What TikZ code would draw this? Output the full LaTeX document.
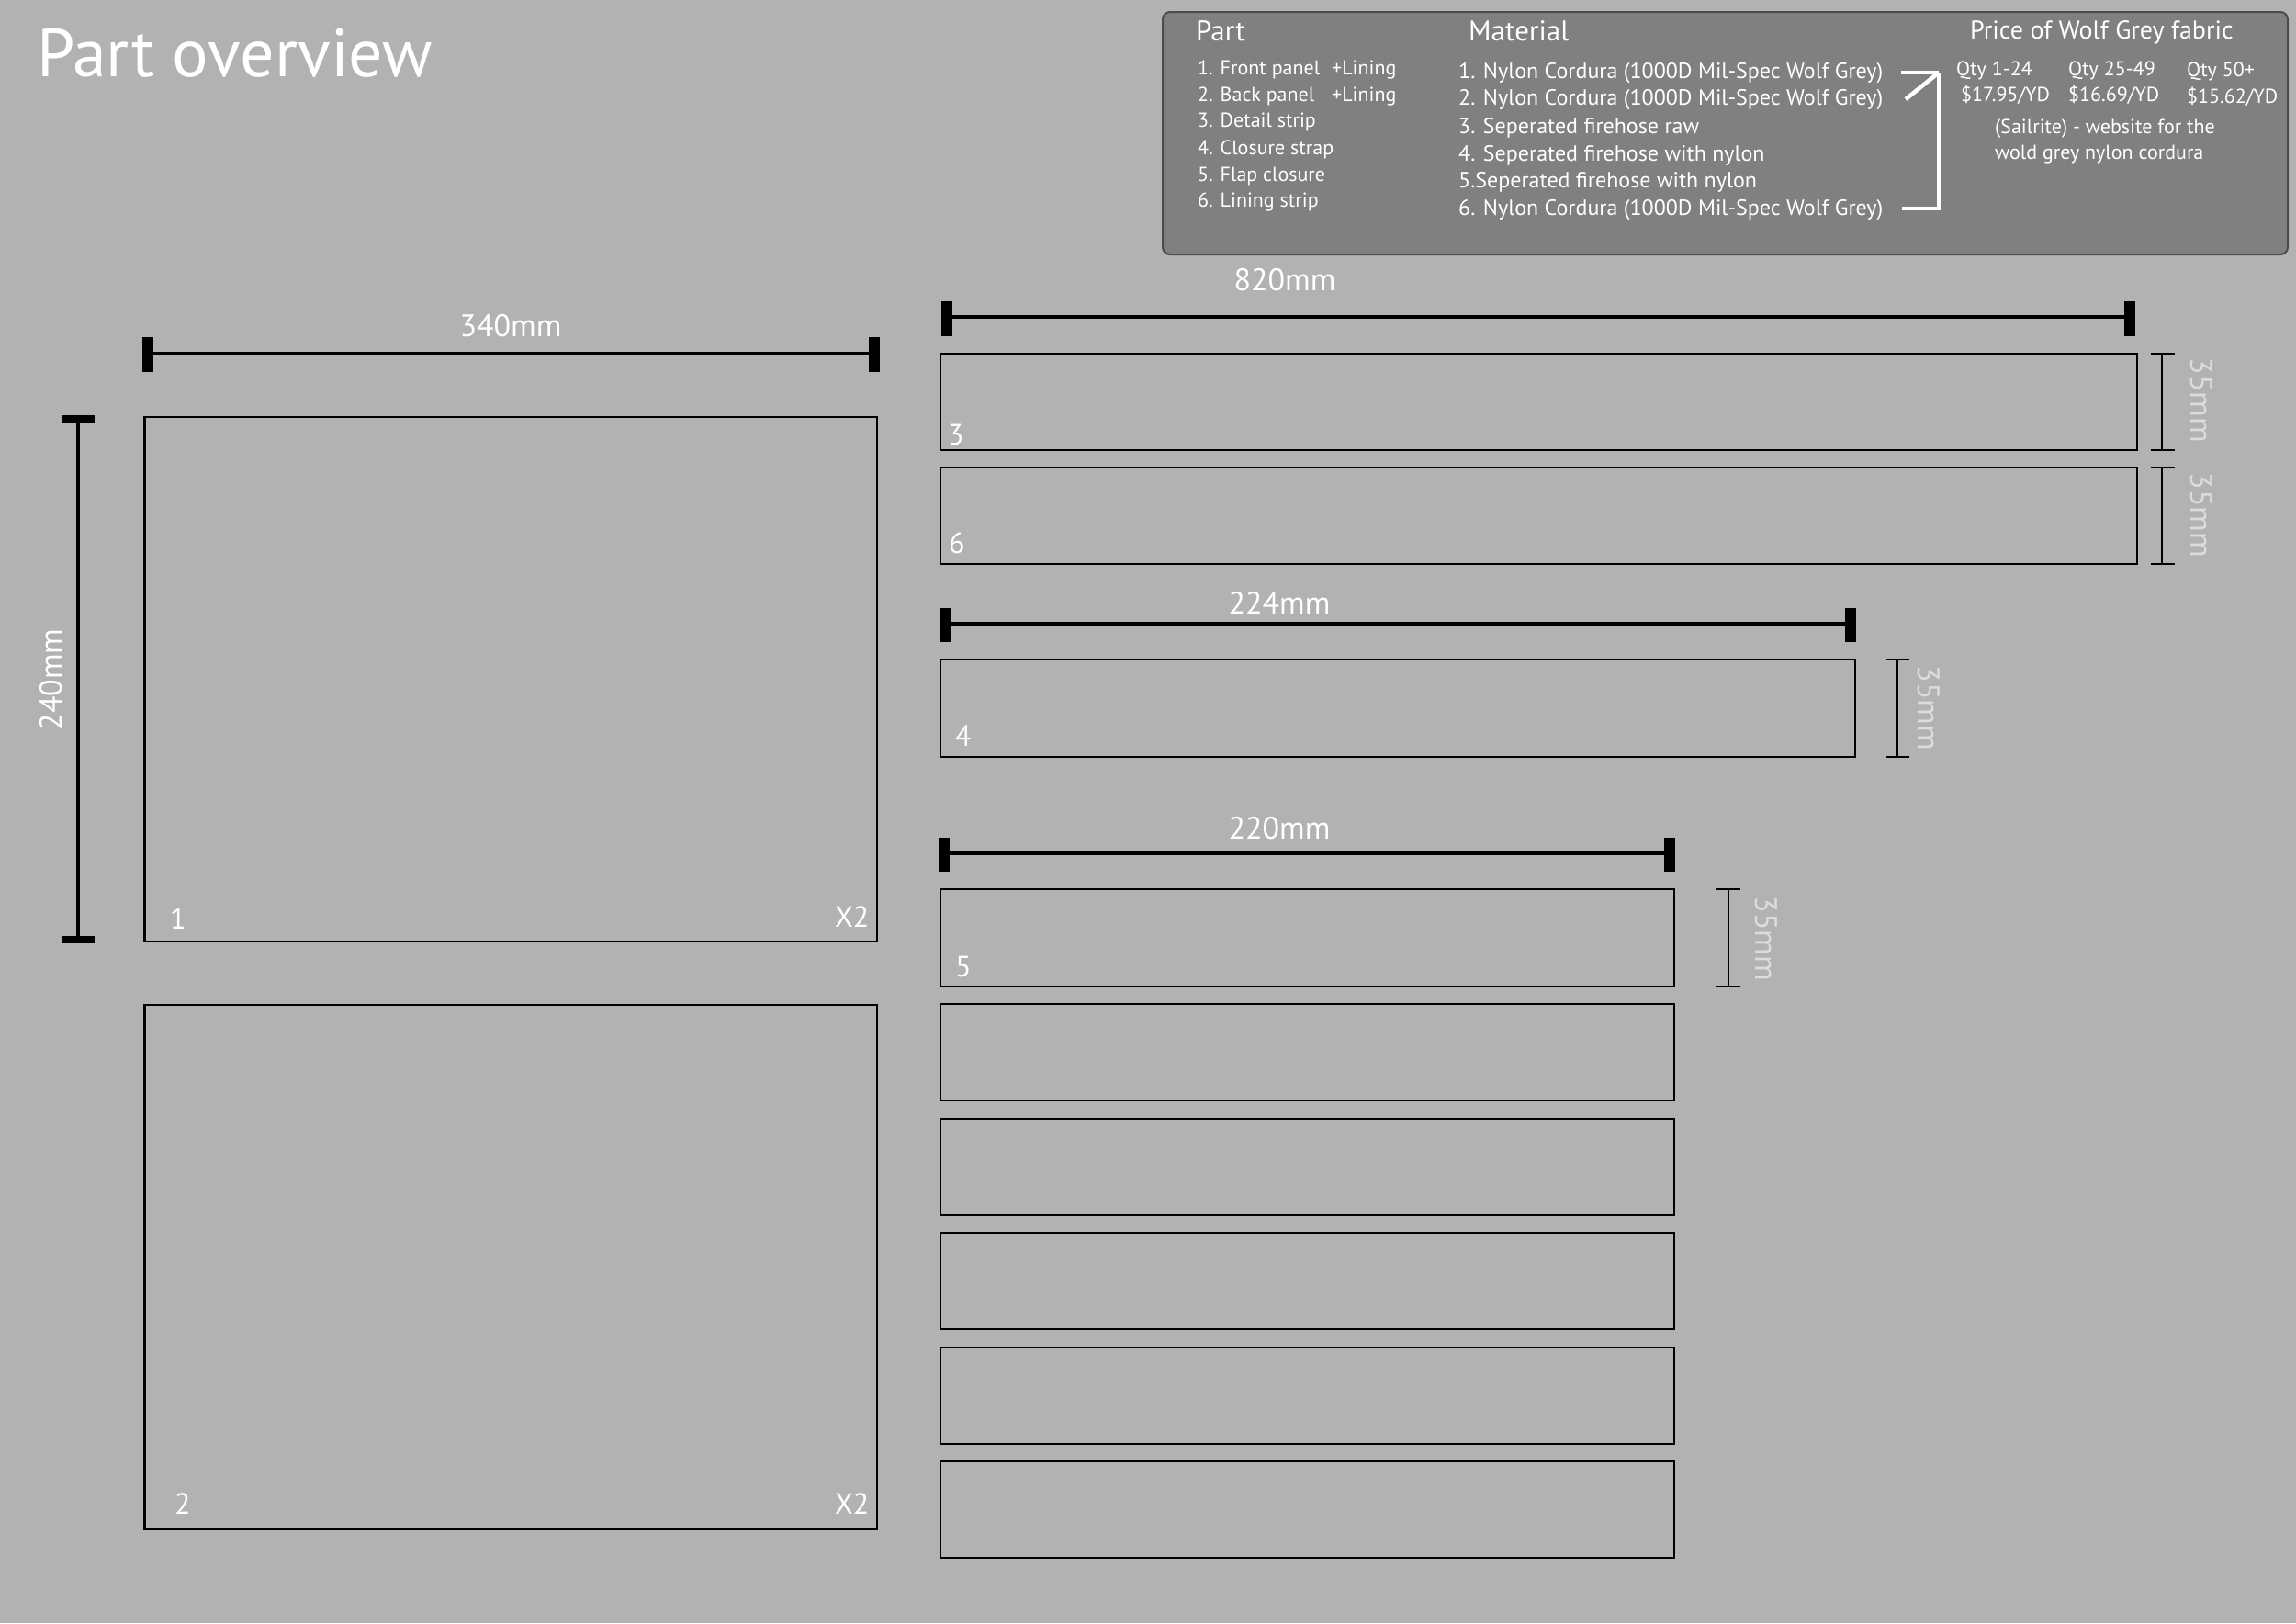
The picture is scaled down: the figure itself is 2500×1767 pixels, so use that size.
\documentclass[tikz,border=0pt]{standalone}
\usepackage{fontspec}
\setmainfont{PT Sans}
\definecolor{bg}{HTML}{B2B2B2}
\definecolor{panelfill}{HTML}{808080}
\definecolor{paleGray}{HTML}{DCDCDC}
\tikzset{
  piece/.style={draw=black, line width=2.5},
  dimmain/.style={draw=black, line width=4.5},
  dimtick/.style={draw=black, line width=12},
  thindim/.style={draw=black, line width=1.8},
  wtxt/.style={text=white, inner sep=0pt, anchor=base west},
  dimlbl/.style={text=white, inner sep=0pt, anchor=base, font=\fontsize{34}{34}\selectfont},
  numlbl/.style={text=white, inner sep=0pt, anchor=base west, font=\fontsize{32}{32}\selectfont},
  smalldim/.style={text=paleGray, inner sep=0pt, rotate=-90, font=\fontsize{34}{34}\selectfont},
  listA/.style={wtxt, font=\fontsize{22}{22}\selectfont},
  listB/.style={wtxt, font=\fontsize{24}{24}\selectfont},
  bracket/.style={draw=white, line width=4.5}
}
\begin{document}
\begin{tikzpicture}[x=1pt,y=-1pt]
\useasboundingbox (0,0) rectangle (2500,1767);
\fill[bg] (0,0) rectangle (2500,1767);

% title
\node[wtxt, font=\fontsize{74}{74}\selectfont] (title) at (40,83) {Part overview};

% info panel
\draw[fill=panelfill, draw=black!70, line width=2, rounded corners=8] (1266,13) rectangle (2491,277);
\node[wtxt, font=\fontsize{31}{31}\selectfont] (hpart) at (1302,44) {Part};
\node[wtxt, font=\fontsize{31}{31}\selectfont] (hmat) at (1599,44) {Material};
\node[wtxt, font=\fontsize{28}{28}\selectfont] (hprice) at (2145,42) {Price of Wolf Grey fabric};

\node[listA] (p1) at (1304,81) {1. Front panel};
\node[listA] (p2) at (1304,110) {2. Back panel};
\node[listA] (p3) at (1304,138) {3. Detail strip};
\node[listA] (p4) at (1304,168) {4. Closure strap};
\node[listA] (p5) at (1304,197) {5. Flap closure};
\node[listA] (p6) at (1304,225) {6. Lining strip};
\node[listA] (l1) at (1450,81) {+Lining};
\node[listA] (l2) at (1450,110) {+Lining};

\node[listB] (m1) at (1588,85) {1. Nylon Cordura (1000D Mil-Spec Wolf Grey)};
\node[listB] (m2) at (1588,114) {2. Nylon Cordura (1000D Mil-Spec Wolf Grey)};
\node[listB] (m3) at (1588,145) {3. Seperated firehose raw};
\node[listB] (m4) at (1588,175) {4. Seperated firehose with nylon};
\node[listB] (m5) at (1588,204) {5.Seperated firehose with nylon};
\node[listB] (m6) at (1588,234) {6. Nylon Cordura (1000D Mil-Spec Wolf Grey)};

\coordinate (corner) at (2111,79);
\coordinate (b1) at (2070,79);
\coordinate (b2) at (2075,108);
\coordinate (b6) at (2071,227);
\draw[bracket] (b1) -- (corner);
\draw[bracket] (b2) -- (corner);
\draw[bracket] (b6) -| (corner);

\node[listA] (q1) at (2130,82) {Qty 1-24};
\node[listA] (c1) at (2135,110) {\$17.95/YD};
\node[listA] (q2) at (2252,82) {Qty 25-49};
\node[listA] (c2) at (2252,110) {\$16.69/YD};
\node[listA] (q3) at (2381,83) {Qty 50+};
\node[listA] (c3) at (2381,112) {\$15.62/YD};
\node[listA] (s1) at (2172,145) {(Sailrite) - website for the};
\node[listA] (s2) at (2172,173) {wold grey nylon cordura};

% panels 1 and 2
\draw[piece] (157.5,454) rectangle (955,1025);
\draw[piece] (157.5,1094) rectangle (955,1665);
\node[numlbl] (n1) at (185,1011) {1};
\node[numlbl] (x1) at (909,1009) {X2};
\node[numlbl] (n2) at (190,1648) {2};
\node[numlbl] (x2) at (909,1648) {X2};

% 340mm
\draw[dimmain] (161,385) -- (952,385);
\draw[dimtick] (161,367) -- (161,405);
\draw[dimtick] (952,367) -- (952,405);
\node[dimlbl] (d340) at (556,366) {340mm};

% 240mm
\draw[dimmain] (85,456) -- (85,1023);
\draw[draw=black, line width=8] (68,456) -- (103,456);
\draw[draw=black, line width=8] (68,1023) -- (103,1023);
\node[text=white, inner sep=0pt, rotate=90, font=\fontsize{34}{34}\selectfont] (d240) at (56,740) {240mm};

% strips 3 and 6
\draw[piece] (1024,385) rectangle (2327,490);
\draw[piece] (1024,509) rectangle (2327,614);
\node[numlbl] (n3) at (1032,484) {3};
\node[numlbl] (n6) at (1033,602) {6};
\draw[dimmain] (1031,345) -- (2319,345);
\draw[dimtick] (1031,328) -- (1031,366);
\draw[dimtick] (2319,328) -- (2319,366);
\node[dimlbl] (d820) at (1399,316) {820mm};
\draw[thindim] (2354,385) -- (2354,490);
\draw[thindim] (2342,385) -- (2368,385);
\draw[thindim] (2342,490) -- (2368,490);
\node[smalldim] (h3) at (2397,436) {35mm};
\draw[thindim] (2354,509) -- (2354,614);
\draw[thindim] (2342,509) -- (2368,509);
\draw[thindim] (2342,614) -- (2368,614);
\node[smalldim] (h6) at (2397,561) {35mm};

% strip 4
\draw[piece] (1024,718) rectangle (2020,824);
\node[numlbl] (n4) at (1040,812) {4};
\draw[dimmain] (1029,679) -- (2015,679);
\draw[dimtick] (1029,662) -- (1029,699);
\draw[dimtick] (2015,662) -- (2015,699);
\node[dimlbl] (d224) at (1393,668) {224mm};
\draw[thindim] (2066,718) -- (2066,824);
\draw[thindim] (2054,718) -- (2079,718);
\draw[thindim] (2054,824) -- (2079,824);
\node[smalldim] (h4) at (2100,771) {35mm};

% strip 5 and repeats
\draw[piece] (1024,968) rectangle (1823,1074);
\node[numlbl] (n5) at (1040,1063) {5};
\draw[dimmain] (1028,929) -- (1818,929);
\draw[dimtick] (1028,912) -- (1028,949);
\draw[dimtick] (1818,912) -- (1818,949);
\node[dimlbl] (d220) at (1393,913) {220mm};
\draw[thindim] (1882,968) -- (1882,1074);
\draw[thindim] (1869,968) -- (1895,968);
\draw[thindim] (1869,1074) -- (1895,1074);
\node[smalldim] (h5) at (1923,1022) {35mm};

\foreach \t in {1093,1218,1342,1467,1591} {
  \draw[piece] (1024,\t) rectangle (1823,\t+105);
}
\end{tikzpicture}
\end{document}
